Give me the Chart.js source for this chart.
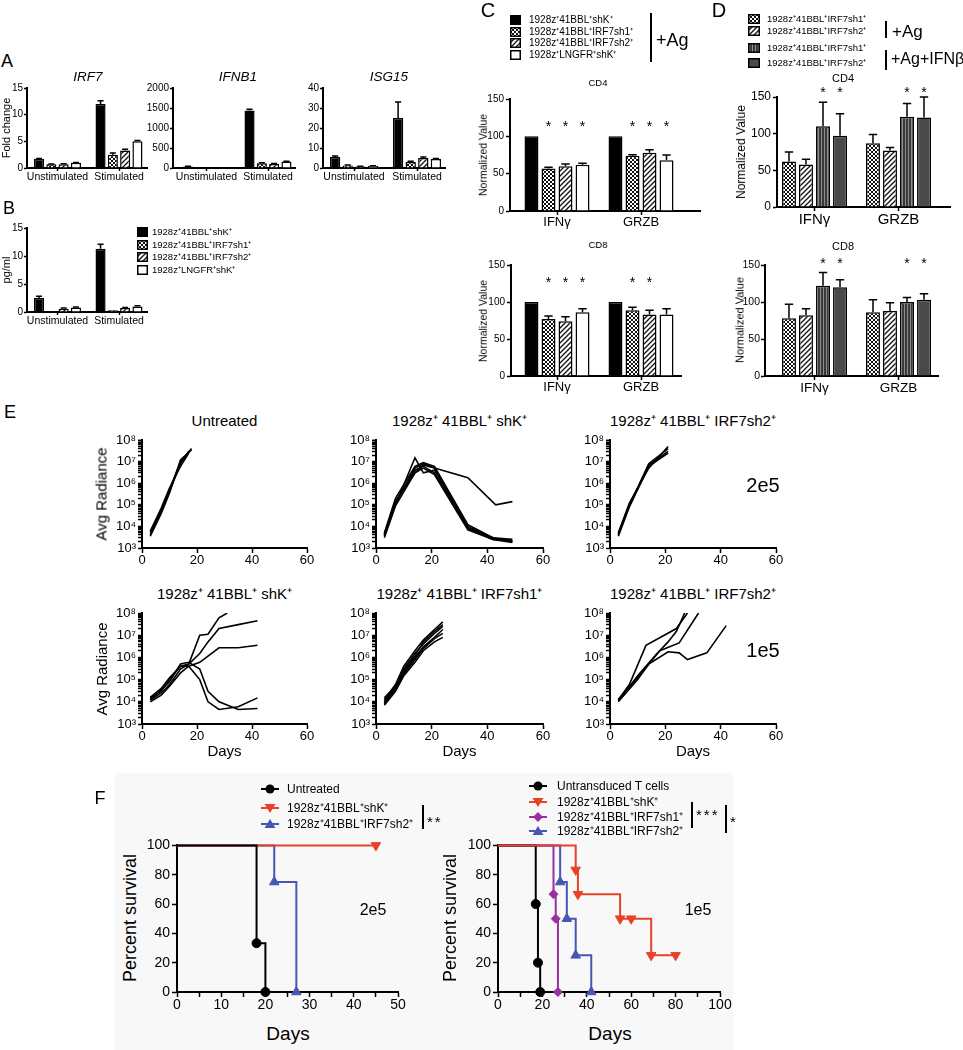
<!DOCTYPE html>
<html>
<head>
<meta charset="utf-8">
<title>IRF7 knockdown figure</title>
<script src="https://cdn.jsdelivr.net/npm/chart.js@4.4.1/dist/chart.umd.min.js"></script>
<style>
  body { margin: 0; background: #fff; }
  #fig { position: relative; width: 963px; height: 1050px; overflow: hidden;
         font-family: 'Liberation Sans', Arial, sans-serif; color: #000; }
  #fig canvas { position: absolute; }
  .t { position: absolute; white-space: nowrap; line-height: 1; }
  .rule { position: absolute; background: #000; }
  .shade { position: absolute; background: #f8f8f8; }
</style>
</head>
<body>
<div id="fig"></div>
<script>
// ---- values ----
const constructs = ['1928z⁺41BBL⁺shK⁺', '1928z⁺41BBL⁺IRF7sh1⁺', '1928z⁺41BBL⁺IRF7sh2⁺', '1928z⁺LNGFR⁺shK⁺'];
const stimGroups = ['Unstimulated', 'Stimulated'];
const cytokines = ['IFNγ', 'GRZB'];

// A: fold change, one row per construct: [unstimulated, stimulated]
const irf7Fold = [[1.7, 12.0], [0.7, 2.5], [0.7, 3.3], [1.0, 5.0]];
const irf7Sem  = [[0.1, 0.6], [0.05, 0.3], [0.1, 0.2], [0.05, 0.15]];
const ifnb1Fold = [[40, 1440], [3, 120], [8, 100], [5, 160]];
const ifnb1Sem  = [[5, 30], [1, 10], [1, 10], [1, 10]];
const isg15Fold = [[5.5, 25], [1.3, 3.0], [0.8, 5.0], [1.0, 4.5]];
const isg15Sem  = [[0.5, 8], [0.2, 0.4], [0.1, 0.5], [0.1, 0.3]];

// B: IFNb pg/ml
const ifnbProtein = [[2.5, 11.3], [0.15, 0.3], [0.6, 0.7], [0.8, 1.0]];
const ifnbProteinSem = [[0.3, 0.8], [0, 0], [0.1, 0.1], [0.1, 0.1]];

// C: normalized value [IFNg, GRZB]
const cd4Ag = [[100, 100], [57, 74], [60, 78], [62, 68]];
const cd4AgSem = [[0, 0], [1.5, 1.5], [3, 4], [2, 7]];
const cd4AgStars = [[0, 0], [1, 1], [1, 1], [1, 1]];
const cd8Ag = [[100, 100], [77, 89], [74, 83], [86, 83]];
const cd8AgSem = [[0, 0], [4, 4], [6, 6], [5, 8]];
const cd8AgStars = [[0, 0], [1, 1], [1, 1], [1, 0]];

// D: sh1, sh2 (+Ag), sh1, sh2 (+Ag+IFNb)
const dGroups = ['1928z⁺41BBL⁺IRF7sh1⁺', '1928z⁺41BBL⁺IRF7sh2⁺', '1928z⁺41BBL⁺IRF7sh1⁺', '1928z⁺41BBL⁺IRF7sh2⁺'];
const cd4Ifn = [[62, 87], [58, 77], [110, 123], [97, 122]];
const cd4IfnSem = [[13, 12], [7, 4], [33, 18], [30, 28]];
const cd8Ifn = [[78, 86], [82, 88], [122, 100], [120, 103]];
const cd8IfnSem = [[19, 17], [9, 11], [18, 6], [10, 8]];
const ifnStars = [[0, 0], [0, 0], [1, 1], [1, 1]];

// E: avg radiance per mouse, [day, value]
const untreated2e5 = [
  [[3, 4e3], [7, 5e4], [10, 4e5], [14, 8e6], [17, 3e7]],
  [[3, 5e3], [7, 6e4], [10, 5e5], [14, 1e7], [18, 4e7]],
  [[3, 6e3], [7, 7e4], [10, 6e5], [14, 6e6], [17, 2.5e7]],
  [[3, 3.5e3], [7, 4e4], [10, 3.5e5], [14, 1.2e7], [18, 3.5e7]]
];
const shK2e5 = [
  [[3, 4e3], [7, 1.5e5], [14, 3e6], [17, 7e6], [21, 5e6], [33, 1.8e6], [43, 1e5], [49, 1.4e5]],
  [[3, 3.5e3], [7, 1e5], [14, 1.5e7], [17, 3e6], [21, 4e6], [33, 1e4], [42, 3e3], [49, 2e3]],
  [[3, 5e3], [7, 2e5], [14, 6e6], [17, 9e6], [21, 6e6], [33, 1.2e4], [42, 3e3], [49, 2.5e3]],
  [[3, 4e3], [7, 1.3e5], [14, 4e6], [17, 6e6], [21, 3e6], [33, 8e3], [42, 2.5e3], [49, 2.2e3]],
  [[3, 4.5e3], [7, 1.2e5], [14, 5e6], [17, 8e6], [21, 5e6], [33, 9e3], [42, 2.8e3], [49, 2e3]],
  [[3, 3e3], [7, 9e4], [14, 3e6], [17, 5e6], [21, 2.5e6], [33, 7e3], [42, 2.5e3], [49, 1.8e3]]
];
const sh2_2e5 = [
  [[3, 4e3], [7, 1e5], [14, 7e6], [21, 3e7]],
  [[3, 5e3], [7, 1.2e5], [14, 5e6], [21, 5e7]],
  [[3, 4.5e3], [7, 9e4], [14, 8e6], [21, 4e7]],
  [[3, 3.5e3], [7, 8e4], [14, 6e6], [21, 2.5e7]]
];
const shK1e5 = [
  [[3, 1.5e4], [7, 3e4], [10, 1e5], [14, 4e5], [17, 5e5], [21, 1e7], [24, 1.1e7], [28, 6e7], [31, 1e8]],
  [[3, 1.2e4], [7, 2.5e4], [10, 6e4], [14, 3e5], [17, 5e5], [21, 1.5e6], [24, 5e6], [28, 2e7], [35, 3e7], [42, 4.5e7]],
  [[3, 1e4], [7, 2e4], [10, 5e4], [14, 2e5], [17, 4e5], [21, 6e5], [28, 2.7e6], [35, 2.7e6], [42, 3.5e6]],
  [[3, 1.6e4], [7, 4e4], [10, 1.2e5], [14, 4e5], [17, 4e5], [21, 1e5], [24, 1e4], [28, 4.5e3], [35, 6e3], [42, 1.5e4]],
  [[3, 1.3e4], [7, 3.5e4], [10, 8e4], [14, 5e5], [17, 6e5], [21, 3e5], [24, 3e4], [28, 1e4], [35, 4.5e3], [42, 5e3]]
];
const sh1_1e5 = [
  [[3, 7e3], [7, 3e4], [10, 1.5e5], [14, 6e5], [17, 2e6], [21, 5e6], [24, 8e6]],
  [[3, 1e4], [7, 5e4], [10, 3e5], [14, 1.5e6], [17, 4e6], [21, 1.2e7], [24, 2.5e7]],
  [[3, 1.2e4], [7, 6e4], [10, 4e5], [14, 2e6], [17, 6e6], [21, 1.8e7], [24, 4e7]],
  [[3, 9e3], [7, 4e4], [10, 2e5], [14, 1e6], [17, 3e6], [21, 8e6], [24, 1.8e7]],
  [[3, 1.5e4], [7, 5e4], [10, 2.5e5], [14, 1.2e6], [17, 5e6], [21, 1.5e7], [24, 3e7]],
  [[3, 8e3], [7, 3.5e4], [10, 1.8e5], [14, 8e5], [17, 2.5e6], [21, 7e6], [24, 1.2e7]]
];
const sh2_1e5 = [
  [[3, 1.2e4], [7, 6e4], [13, 3.5e6], [24, 2e7], [28, 1e8]],
  [[3, 1.1e4], [10, 1.5e5], [17, 1.5e6], [21, 5e6], [24, 1.5e7], [27, 1e8]],
  [[3, 1.3e4], [10, 1.2e5], [18, 2e6], [25, 4.5e6], [32, 1e8]],
  [[3, 1e4], [10, 1e5], [14, 5e5], [21, 1.8e6], [25, 1.6e6], [28, 8e5], [35, 1.6e6], [42, 2.7e7]]
];

// F: Kaplan-Meier steps, [day, percent]
const untreatedSurv = [[0, 100], [18, 33.3], [20, 0]];
const shKSurv2e5 = [[0, 100], [45, 100]];
const sh2Surv2e5 = [[0, 100], [22, 75], [27, 0]];
const untransducedSurv = [[0, 100], [17, 60], [18, 20], [19, 0]];
const shKSurv1e5 = [[0, 100], [35, 83.3], [36, 66.7], [55, 50], [60, 50], [69, 25], [80, 25]];
const sh1Surv1e5 = [[0, 100], [25, 66.7], [26, 50], [27, 0]];
const sh2Surv1e5 = [[0, 100], [28, 75], [31, 50], [35, 25], [42, 0]];

// ---- drawing helpers ----
const FONT = "'Liberation Sans', Arial, sans-serif";
Chart.defaults.font.family = FONT;
Chart.defaults.color = '#000';
const fig = document.getElementById('fig');

function pattern(kind) {
  const c = document.createElement('canvas');
  const g = c.getContext('2d');
  if (kind === 'check') {
    c.width = c.height = 4;
    g.fillStyle = '#fff'; g.fillRect(0, 0, 4, 4);
    g.fillStyle = '#111'; g.fillRect(0, 0, 2, 2); g.fillRect(2, 2, 2, 2);
  } else if (kind === 'hatch') {
    c.width = c.height = 5;
    g.fillStyle = '#fff'; g.fillRect(0, 0, 5, 5);
    g.strokeStyle = '#111'; g.lineWidth = 1.3;
    g.beginPath(); g.moveTo(0, 5); g.lineTo(5, 0); g.moveTo(-1, 1); g.lineTo(1, -1); g.moveTo(4, 6); g.lineTo(6, 4); g.stroke();
  } else {
    c.width = 3; c.height = 1;
    g.fillStyle = '#3a3a3a'; g.fillRect(0, 0, 3, 1);
    g.fillStyle = '#8c8c8c'; g.fillRect(1, 0, 1, 1);
  }
  return g.createPattern(c, 'repeat');
}
const fillsAg = ['#000', pattern('check'), pattern('hatch'), '#fff'];
const fillsIfn = [pattern('check'), pattern('hatch'), pattern('vstripe'), '#4a4a4a'];

function mount(plot, m) {
  const [x0, y0, x1, y1] = plot;
  const w = x1 - x0 + m.l + m.r, h = y1 - y0 + m.t + m.b;
  const c = document.createElement('canvas');
  c.width = w; c.height = h;
  Object.assign(c.style, { left: (x0 - m.l) + 'px', top: (y0 - m.t) + 'px', width: w + 'px', height: h + 'px' });
  fig.appendChild(c);
  return c;
}
function base(m) {
  return { responsive: false, animation: false, devicePixelRatio: 1, events: [],
           layout: { padding: { top: m.t, right: m.r, bottom: 0, left: 0 } } };
}
function tickGrid(len) {
  return { drawOnChartArea: false, drawTicks: true, tickLength: len, tickColor: '#000', tickWidth: 1.5, offset: false };
}
const border = { color: '#000', width: 2 };
const quiet = { legend: { display: false }, tooltip: { enabled: false } };

// upper error bars, Prism style
const errorBars = {
  id: 'errorBars',
  afterDatasetsDraw(chart) {
    const ctx = chart.ctx, ys = chart.scales.y;
    chart.data.datasets.forEach((ds, i) => {
      if (!ds.errors) return;
      chart.getDatasetMeta(i).data.forEach((bar, j) => {
        const e = ds.errors[j];
        if (!e) return;
        const top = ys.getPixelForValue(ds.data[j].y + e), w = bar.width * 0.3;
        ctx.save();
        ctx.strokeStyle = '#000'; ctx.lineWidth = 1.5;
        ctx.beginPath();
        ctx.moveTo(bar.x, bar.y); ctx.lineTo(bar.x, top);
        ctx.moveTo(bar.x - w, top); ctx.lineTo(bar.x + w, top);
        ctx.stroke(); ctx.restore();
      });
    });
  }
};
const starMarks = {
  id: 'stars',
  afterDatasetsDraw(chart, args, o) {
    if (!o || o.level == null) return;
    const ctx = chart.ctx, y = chart.scales.y.getPixelForValue(o.level), size = o.size || 14;
    ctx.save();
    ctx.fillStyle = '#000'; ctx.font = size + 'px ' + FONT; ctx.textAlign = 'center'; ctx.textBaseline = 'alphabetic';
    chart.data.datasets.forEach((ds, i) => {
      if (!ds.stars) return;
      chart.getDatasetMeta(i).data.forEach((bar, j) => {
        if (ds.stars[j]) ctx.fillText('*', bar.x, y + size * 0.57);
      });
    });
    ctx.restore();
  }
};

function barChart(plot, yr, vals, errs, fills, o) {
  const m = { l: o.yw, t: o.t || 10, r: 4, b: o.xh };
  const x0 = plot[0], x1 = plot[2];
  const a = 1 - (o.firstCenter - x0) / o.spacing, b = a + (x1 - x0) / o.spacing;
  const tl = o.tick || 4;
  new Chart(mount(plot, m), {
    type: 'bar',
    data: { datasets: vals.map((v, i) => ({
      data: v.map((y, j) => ({ x: j + 1, y })),
      errors: errs[i], stars: o.stars ? o.stars[i] : null,
      backgroundColor: fills[i], borderColor: '#000', borderWidth: 1.5,
      categoryPercentage: o.cp, barPercentage: o.bp
    })) },
    options: {
      ...base(m),
      scales: {
        x: { type: 'linear', min: a, max: b, offset: false, grid: tickGrid(tl), border,
             afterBuildTicks: s => { s.ticks = o.cats.map((_, i) => ({ value: i + 1 })); },
             ticks: { autoSkip: false, maxRotation: 0, padding: 0, font: { size: o.xFont }, callback: v => o.cats[v - 1] },
             afterFit: s => { s.height = m.b; } },
        y: { min: yr[0], max: yr[1], grid: tickGrid(tl), border,
             ticks: { stepSize: yr[2], padding: o.tickPad ?? 2, font: { size: o.yFont }, callback: v => String(v) },
             afterFit: s => { s.width = m.l; } }
      },
      plugins: { ...quiet, stars: { level: o.starLevel, size: 14 } }
    },
    plugins: [errorBars, starMarks]
  });
}

const supDigits = '⁰¹²³⁴⁵⁶⁷⁸⁹';
const logTicks = [];
for (let e = 3; e <= 8; e++) {
  for (let k = 1; k <= (e < 8 ? 9 : 1); k++) logTicks.push({ value: k * Math.pow(10, e), major: k === 1 });
}

function radianceChart(plot, mice) {
  const m = { l: 42, t: 10, r: 14, b: 18 };
  new Chart(mount(plot, m), {
    type: 'line',
    data: { datasets: mice.map(pts => ({
      data: pts.map(([x, y]) => ({ x, y })),
      borderColor: '#000', borderWidth: 1.6, pointRadius: 0, tension: 0, fill: false
    })) },
    options: {
      ...base(m),
      scales: {
        x: { type: 'linear', min: 0, max: 60, grid: tickGrid(5), border,
             ticks: { stepSize: 20, padding: 0, maxRotation: 0, font: { size: 13 } },
             afterFit: s => { s.height = m.b; } },
        y: { type: 'logarithmic', min: 1e3, max: 1e8, grid: tickGrid(4), border,
             afterBuildTicks: s => { s.ticks = logTicks.map(t => ({ ...t })); },
             ticks: { autoSkip: false, padding: 2, font: { size: 13 },
                      callback: (v, i, t) => t[i].major ? '10' + supDigits[Math.round(Math.log10(v))] : '' },
             afterFit: s => { s.width = m.l; } }
      },
      plugins: quiet
    }
  });
}

function survivalChart(plot, xmax, curves, looks) {
  const m = { l: 36, t: 10, r: 16, b: 24 };
  new Chart(mount(plot, m), {
    type: 'line',
    data: { datasets: curves.map((c, i) => ({
      data: c.map(([x, y]) => ({ x, y })),
      stepped: true, clip: false, order: looks[i].order, fill: false,
      borderColor: looks[i].color, backgroundColor: looks[i].color, borderWidth: 2,
      pointStyle: looks[i].shape, pointRotation: looks[i].rot || 0, pointBorderWidth: 1,
      pointRadius: ctx => ctx.dataIndex === 0 ? 0 : looks[i].r
    })) },
    options: {
      ...base(m),
      scales: {
        x: { type: 'linear', min: 0, max: xmax, grid: tickGrid(5), border,
             ticks: { stepSize: xmax / 10, padding: 0, maxRotation: 0, autoSkip: false, font: { size: 14 },
                      callback: v => v % (xmax / 5) === 0 ? String(v) : '' },
             afterFit: s => { s.height = m.b; } },
        y: { min: 0, max: 100, grid: tickGrid(5), border,
             ticks: { stepSize: 20, padding: 2, font: { size: 14 } },
             afterFit: s => { s.width = m.l; } }
      },
      plugins: quiet
    }
  });
}

function txt(s, x, y, size, o = {}) {
  const d = document.createElement('div');
  d.className = 't'; d.textContent = s;
  d.style.left = x + 'px'; d.style.top = y + 'px'; d.style.fontSize = size + 'px';
  let tr = o.left ? 'translate(0,-50%)' : 'translate(-50%,-50%)';
  if (o.rot) tr += ' rotate(-90deg)';
  d.style.transform = tr;
  if (o.italic) d.style.fontStyle = 'italic';
  if (o.spacing) d.style.letterSpacing = o.spacing + 'px';
  fig.appendChild(d);
}
function rule(x, y0, y1) {
  const d = document.createElement('div');
  d.className = 'rule';
  Object.assign(d.style, { left: (x - 1) + 'px', top: y0 + 'px', width: '2px', height: (y1 - y0) + 'px' });
  fig.appendChild(d);
}
function boxKey(x, yc, w, h, fill) {
  const c = document.createElement('canvas');
  c.width = w; c.height = h;
  Object.assign(c.style, { left: x + 'px', top: Math.round(yc - h / 2) + 'px', width: w + 'px', height: h + 'px' });
  fig.appendChild(c);
  const g = c.getContext('2d');
  g.fillStyle = fill; g.fillRect(0, 0, w, h);
  g.strokeStyle = '#000'; g.lineWidth = 1.5; g.strokeRect(0.75, 0.75, w - 1.5, h - 1.5);
}
function markerKey(cx, cy, color, shape) {
  const c = document.createElement('canvas');
  c.width = 20; c.height = 14;
  Object.assign(c.style, { left: (cx - 10) + 'px', top: Math.round(cy - 7) + 'px', width: '20px', height: '14px' });
  fig.appendChild(c);
  const g = c.getContext('2d');
  g.strokeStyle = color; g.fillStyle = color; g.lineWidth = 2;
  g.beginPath(); g.moveTo(1, 7); g.lineTo(19, 7); g.stroke();
  g.beginPath();
  if (shape === 'circle') g.arc(10, 7, 4.5, 0, Math.PI * 2);
  if (shape === 'down') { g.moveTo(4.5, 3); g.lineTo(15.5, 3); g.lineTo(10, 12); }
  if (shape === 'up') { g.moveTo(4.5, 11); g.lineTo(15.5, 11); g.lineTo(10, 2); }
  if (shape === 'diamond') { g.moveTo(10, 2); g.lineTo(15, 7); g.lineTo(10, 12); g.lineTo(5, 7); }
  g.closePath(); g.fill();
}

// light backdrop behind panel F
const shade = document.createElement('div');
shade.className = 'shade';
Object.assign(shade.style, { left: '115px', top: '773px', width: '618px', height: '277px' });
fig.appendChild(shade);

// ---- A ----
txt('A', 7, 61, 18);
const aOpts = { cats: stimGroups, yw: 30, xh: 16, xFont: 10.5, yFont: 10, tick: 3, tickPad: 1,
                cp: 0.8, bp: 0.82, spacing: 61.5 };
barChart([27, 88, 147, 168], [0, 15, 5], irf7Fold, irf7Sem, fillsAg, { ...aOpts, firstCenter: 57.5 });
barChart([173, 88, 295, 168], [0, 2000, 500], ifnb1Fold, ifnb1Sem, fillsAg, { ...aOpts, firstCenter: 206.5 });
barChart([323, 88, 445, 168], [0, 40, 10], isg15Fold, isg15Sem, fillsAg, { ...aOpts, spacing: 63, firstCenter: 354 });
txt('IRF7', 88, 77, 13.5, { italic: true });
txt('IFNB1', 238, 77, 13.5, { italic: true });
txt('ISG15', 389, 77, 13.5, { italic: true });
txt('Fold change', 5.5, 128, 11, { rot: true });

// ---- B ----
txt('B', 9, 208, 18);
barChart([27, 228, 147, 312], [0, 15, 5], ifnbProtein, ifnbProteinSem, fillsAg, { ...aOpts, firstCenter: 57.5 });
txt('pg/ml', 5.5, 270, 11, { rot: true });
[232, 244.5, 257, 269.5].forEach((y, i) => {
  boxKey(137, y, 11, 10, fillsAg[i]);
  txt(constructs[i], 152, y, 9.5, { left: true });
});

// ---- C ----
txt('C', 488, 10, 20);
[20, 31.7, 43.3, 55].forEach((y, i) => {
  boxKey(510, y, 11, 10, fillsAg[i]);
  txt(constructs[i], 529, y, 10, { left: true });
});
rule(651, 13, 62);
txt('+Ag', 656, 40, 18, { left: true });
const cOpts = { cats: cytokines, yw: 28, xh: 20, xFont: 13, yFont: 10, cp: 0.81, bp: 0.82, spacing: 84, firstCenter: 557 };
txt('CD4', 598, 83, 9.5);
barChart([510, 99, 700, 211], [0, 150, 50], cd4Ag, cd4AgSem, fillsAg, { ...cOpts, stars: cd4AgStars, starLevel: 118 });
txt('Normalized Value', 483, 155, 10.5, { rot: true });
txt('CD8', 598, 245, 9.5);
barChart([511, 265, 681, 376], [0, 150, 50], cd8Ag, cd8AgSem, fillsAg, { ...cOpts, stars: cd8AgStars, starLevel: 131 });
txt('Normalized Value', 483, 321, 10.5, { rot: true });

// ---- D ----
txt('D', 719, 10, 20);
[19, 31, 48, 63].forEach((y, i) => {
  boxKey(748, y, 12, 10, fillsIfn[i]);
  txt(dGroups[i], 767, y, 9.5, { left: true });
});
rule(886, 21, 38);
txt('+Ag', 892, 31, 17, { left: true });
rule(886, 50, 70);
txt('+Ag+IFNβ', 891, 59, 16, { left: true });
txt('CD4', 843, 78, 11);
barChart([777, 97, 950, 207], [0, 150, 50], cd4Ifn, cd4IfnSem, fillsIfn,
  { ...cOpts, t: 16, yw: 32, xFont: 15, yFont: 12, firstCenter: 814.5, stars: ifnStars, starLevel: 161 });
txt('Normalized Value', 741, 152, 12, { rot: true });
txt('CD8', 843, 246, 11);
barChart([765, 265, 938, 376], [0, 150, 50], cd8Ifn, cd8IfnSem, fillsIfn,
  { ...cOpts, t: 16, yw: 30, xFont: 13.5, yFont: 10.5, tickPad: 1, firstCenter: 814.5, stars: ifnStars, starLevel: 157 });
txt('Normalized Value', 740, 320, 11, { rot: true });

// ---- E ----
txt('E', 10, 412, 18);
const eCols = [[142, 307], [376, 543], [610, 776]];
const eRows = [[440, 548], [613, 724]];
const eMice = [[untreated2e5, shK2e5, sh2_2e5], [shK1e5, sh1_1e5, sh2_1e5]];
const eTitles = [['Untreated', '1928z⁺ 41BBL⁺ shK⁺', '1928z⁺ 41BBL⁺ IRF7sh2⁺'],
                 ['1928z⁺ 41BBL⁺ shK⁺', '1928z⁺ 41BBL⁺ IRF7sh1⁺', '1928z⁺ 41BBL⁺ IRF7sh2⁺']];
eRows.forEach(([y0, y1], r) => {
  eCols.forEach(([x0, x1], c) => {
    radianceChart([x0, y0, x1, y1], eMice[r][c]);
    txt(eTitles[r][c], (x0 + x1) / 2, y0 - 20, 15);
    if (r === 1) txt('Days', (x0 + x1) / 2, 750, 15);
  });
  txt('Avg Radiance', 101, (y0 + y1) / 2, 15, { rot: true });
});
txt('2e5', 763, 485, 20);
txt('1e5', 763, 650, 20);

// ---- F ----
txt('F', 100, 798, 18);
const red = '#e8412a', blue = '#4756b2', purple = '#9a2fa0';
survivalChart([177, 845, 398, 992], 50, [untreatedSurv, shKSurv2e5, sh2Surv2e5], [
  { color: '#000', shape: 'circle', r: 4.5, order: 0 },
  { color: red, shape: 'triangle', rot: 180, r: 5.5, order: 1 },
  { color: blue, shape: 'triangle', r: 5.5, order: 2 }
]);
survivalChart([498, 845, 720, 992], 100, [untransducedSurv, shKSurv1e5, sh1Surv1e5, sh2Surv1e5], [
  { color: '#000', shape: 'circle', r: 4.5, order: 1 },
  { color: red, shape: 'triangle', rot: 180, r: 5.5, order: 0 },
  { color: purple, shape: 'rectRot', r: 4.5, order: 2 },
  { color: blue, shape: 'triangle', r: 5.5, order: 3 }
]);
txt('Percent survival', 130, 918, 18, { rot: true });
txt('Percent survival', 450, 918, 18, { rot: true });
txt('Days', 288, 1033, 19);
txt('Days', 610, 1033, 19);
txt('2e5', 373, 910, 16);
txt('1e5', 698, 910, 16);

[['Untreated', '#000', 'circle'], [constructs[0], red, 'down'], [constructs[2], blue, 'up']].forEach(([s, col, sh], i) => {
  const y = [789, 808, 824][i];
  markerKey(270, y, col, sh);
  txt(s, 287, y, 12, { left: true });
});
rule(423, 805, 829);
txt('**', 427, 821, 15, { left: true, spacing: 2 });

[['Untransduced T cells', '#000', 'circle'], [constructs[0], red, 'down'], [constructs[1], purple, 'diamond'],
 [constructs[2], blue, 'up']].forEach(([s, col, sh], i) => {
  const y = [786, 802, 817, 831][i];
  markerKey(538, y, col, sh);
  txt(s, 557, y, 12, { left: true });
});
rule(692, 802, 828);
txt('***', 696, 814, 15, { left: true, spacing: 2 });
rule(726, 805, 833);
txt('*', 730, 821, 15, { left: true });
</script>
</body>
</html>
